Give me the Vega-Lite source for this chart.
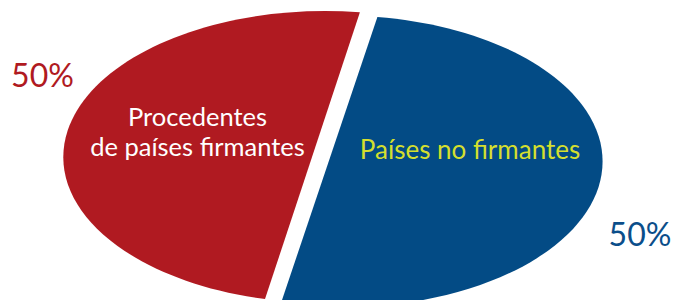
{
  "$schema": "https://vega.github.io/schema/vega-lite/v6.json",
  "width": 673,
  "height": 300,
  "autosize": "none",
  "padding": 0,
  "background": "white",
  "config": {"view": {"stroke": null}},
  "data": {
    "values": [
      {"grupo": "Países no firmantes", "etiqueta": "Países no firmantes", "pct": 0.5},
      {"grupo": "Procedentes de países firmantes", "etiqueta": "Procedentes\nde países firmantes", "pct": 0.5}
    ]
  },
  "layer": [
    {
      "mark": {"type": "point", "filled": true, "opacity": 1, "size": 40000, "strokeWidth": 0},
      "encoding": {
        "shape": {
          "field": "grupo",
          "type": "nominal",
          "legend": null,
          "scale": {
            "domain": ["Países no firmantes", "Procedentes de países firmantes"],
            "range": [
              "M0.409,-1.331 A2.62,1.46 0 1 1 -0.557,1.536 Z",
              "M0.234,-1.377 A2.62,1.46 0 0 0 -0.715,1.491 Z"
            ]
          }
        },
        "color": {
          "field": "grupo",
          "type": "nominal",
          "legend": null,
          "scale": {
            "domain": ["Países no firmantes", "Procedentes de países firmantes"],
            "range": ["#034B85", "#B01A21"]
          }
        }
      }
    },
    {
      "transform": [{"filter": "datum.grupo === 'Procedentes de países firmantes'"}],
      "mark": {"type": "text", "font": "Lato", "fontSize": 25.5, "color": "white", "align": "center", "baseline": "alphabetic", "lineBreak": "\n", "lineHeight": 30, "dx": -139, "dy": -24},
      "encoding": {"text": {"field": "etiqueta", "type": "nominal"}}
    },
    {
      "transform": [{"filter": "datum.grupo === 'Países no firmantes'"}],
      "mark": {"type": "text", "font": "Lato", "fontSize": 26, "color": "#D4DF2E", "align": "center", "baseline": "alphabetic", "dx": 133.5, "dy": 9.3},
      "encoding": {"text": {"field": "etiqueta", "type": "nominal"}}
    },
    {
      "transform": [{"filter": "datum.grupo === 'Procedentes de países firmantes'"}],
      "mark": {"type": "text", "font": "Lato", "fontSize": 32, "color": "#B01A21", "align": "center", "baseline": "alphabetic", "dx": -294, "dy": -62.7},
      "encoding": {"text": {"field": "pct", "type": "quantitative", "format": ".0%"}}
    },
    {
      "transform": [{"filter": "datum.grupo === 'Países no firmantes'"}],
      "mark": {"type": "text", "font": "Lato", "fontSize": 32, "color": "#0B4E8A", "align": "center", "baseline": "alphabetic", "dx": 303.5, "dy": 96},
      "encoding": {"text": {"field": "pct", "type": "quantitative", "format": ".0%"}}
    }
  ]
}
